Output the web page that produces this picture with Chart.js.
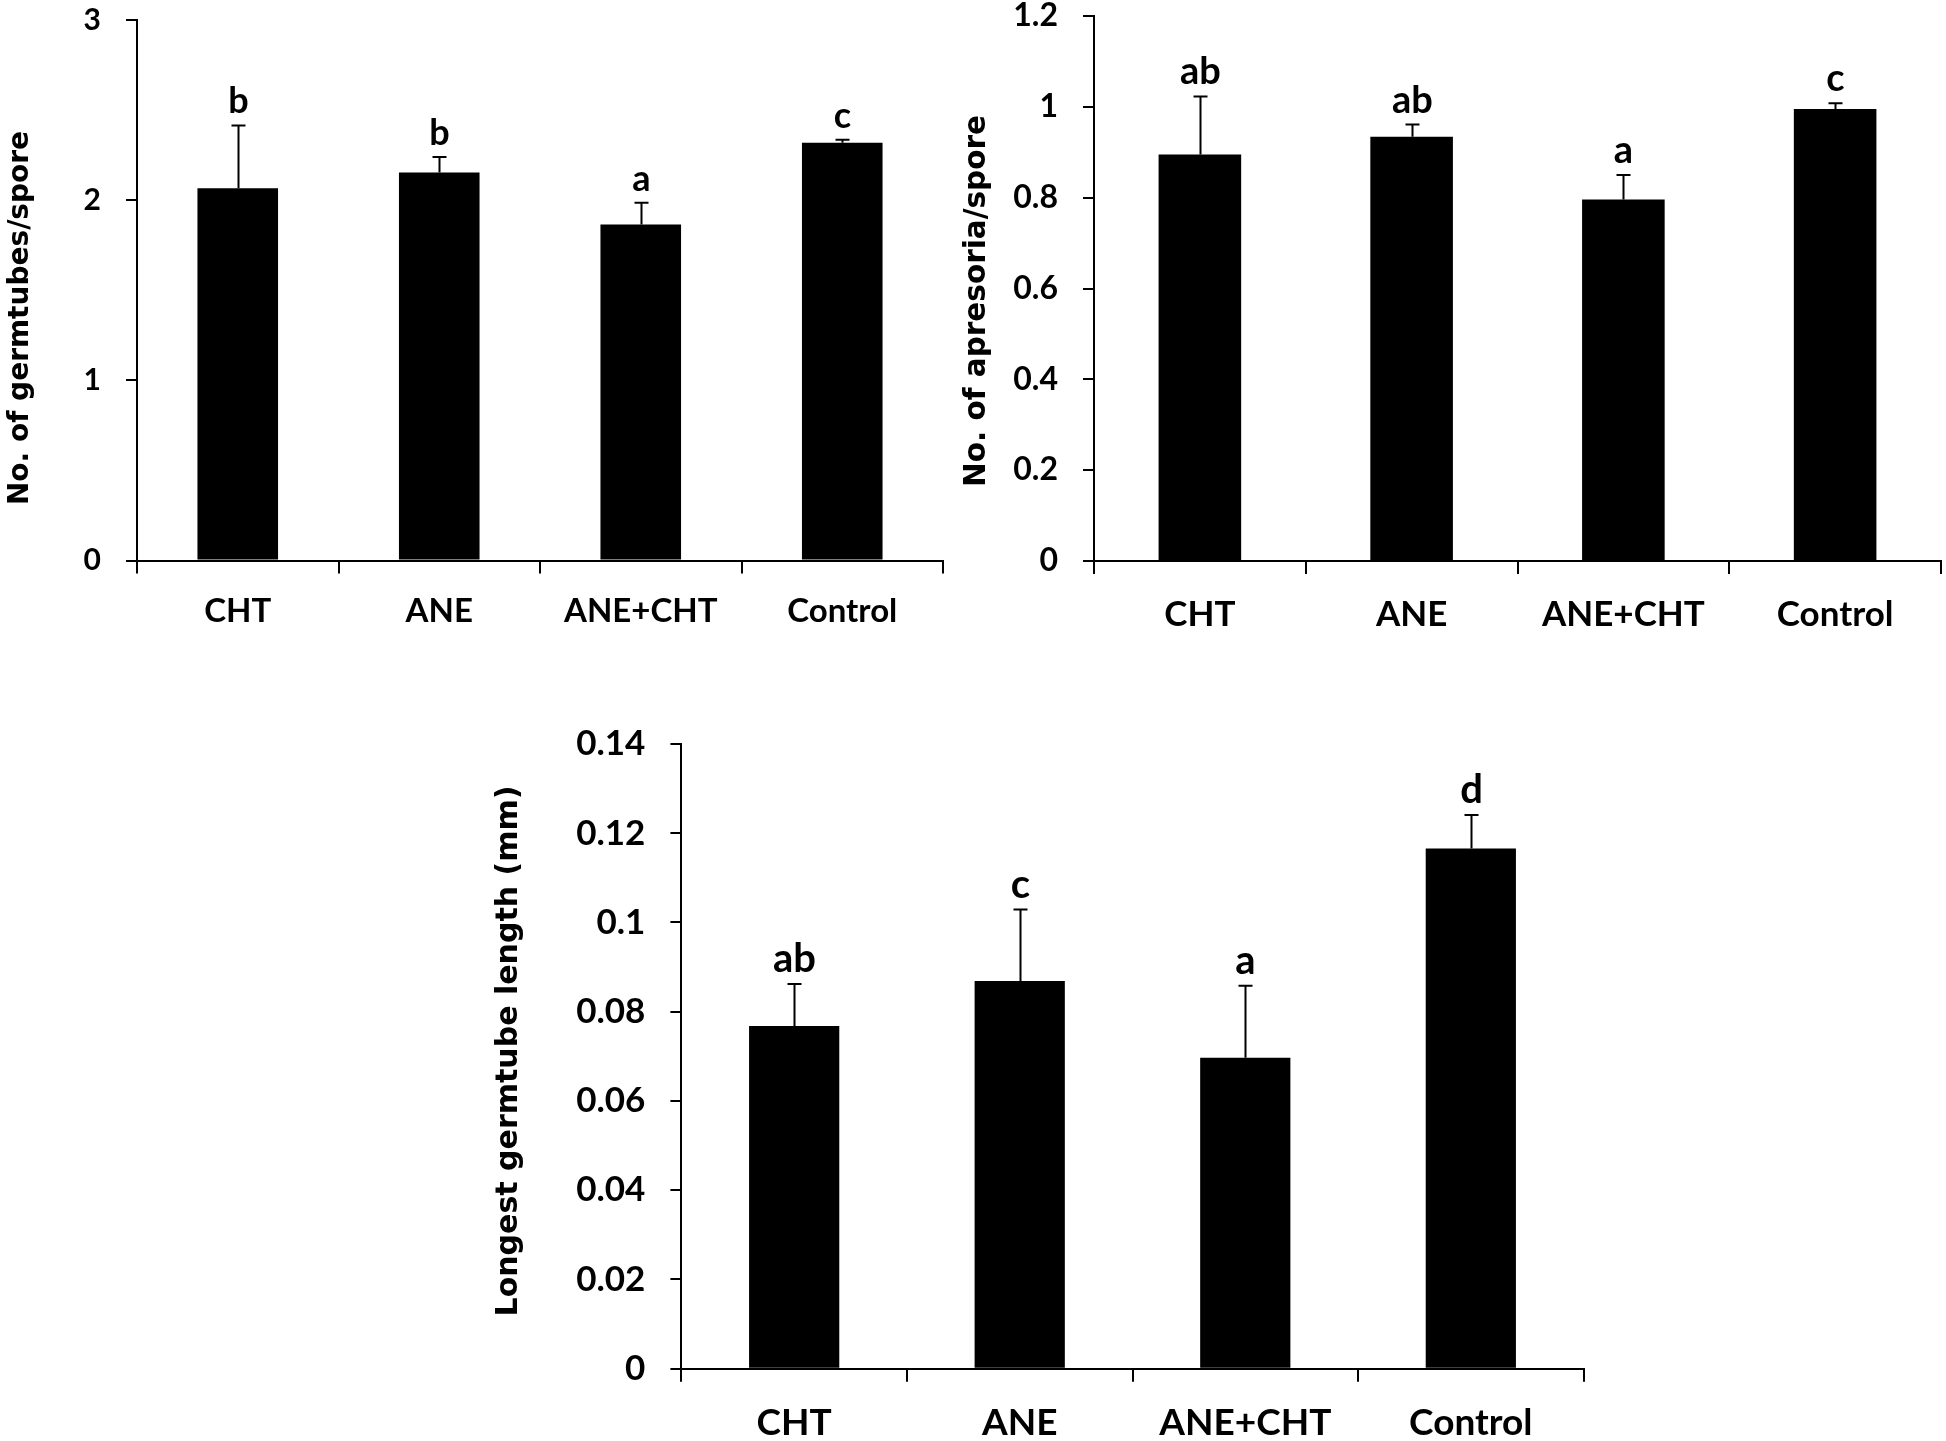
<!DOCTYPE html>
<html>
<head>
<meta charset="utf-8">
<script src="https://cdn.jsdelivr.net/npm/chart.js@4.4.1/dist/chart.umd.min.js"></script>
<style>
  html, body { margin: 0; padding: 0; background: #fff; }
  body { width: 1946px; height: 1441px; position: relative; overflow: hidden; }
  canvas { position: absolute; }
</style>
</head>
<body>
<canvas id="c1" width="960" height="680" style="left:0px;top:0px;width:960px;height:680px"></canvas>
<canvas id="c2" width="986" height="680" style="left:960px;top:0px;width:986px;height:680px"></canvas>
<canvas id="c3" width="1200" height="741" style="left:440px;top:700px;width:1200px;height:741px"></canvas>
<script>
// === data ===
const categories = ['CHT', 'ANE', 'ANE+CHT', 'Control'];

const germtubeMeans = [2.066, 2.153, 1.865, 2.318];
const germtubeErr = [0.349, 0.086, 0.121, 0.018];
const germtubeLetters = ['b', 'b', 'a', 'c'];
const germtubeTicks = [0, 1, 2, 3];

const apresoriaMeans = [0.895, 0.934, 0.796, 0.995];
const apresoriaErr = [0.128, 0.027, 0.054, 0.013];
const apresoriaLetters = ['ab', 'ab', 'a', 'c'];
const apresoriaTicks = [0, 0.2, 0.4, 0.6, 0.8, 1, 1.2];

const lengthMeans = [0.0768, 0.0869, 0.0697, 0.1166];
const lengthErr = [0.0094, 0.0160, 0.0161, 0.0075];
const lengthLetters = ['ab', 'c', 'a', 'd'];
const lengthTicks = [0, 0.02, 0.04, 0.06, 0.08, 0.1, 0.12, 0.14];

const LABEL_FONT = 'Lato, "Liberation Sans", sans-serif';
const TITLE_FONT = '"DejaVu Sans", Verdana, sans-serif';

// error bars (upward only) + significance letters
const errLetterPlugin = {
  id: 'errLetters',
  afterDatasetsDraw(chart, args, opts) {
    const ctx = chart.ctx;
    const xs = chart.scales.x, ys = chart.scales.y;
    const means = chart.data.datasets[0].data;
    ctx.save();
    ctx.strokeStyle = '#000';
    ctx.lineWidth = 2;
    ctx.fillStyle = '#000';
    ctx.font = 'bold ' + opts.fontSize + 'px ' + LABEL_FONT;
    ctx.textAlign = 'center';
    ctx.textBaseline = 'alphabetic';
    means.forEach((m, i) => {
      const x = Math.round(xs.getPixelForValue(i)) + 0.5;
      const y0 = ys.getPixelForValue(m);
      const y1 = ys.getPixelForValue(m + opts.errors[i]);
      ctx.beginPath();
      ctx.moveTo(x, y0);
      ctx.lineTo(x, y1);
      ctx.moveTo(x - 7, y1);
      ctx.lineTo(x + 7, y1);
      ctx.stroke();
      ctx.fillText(opts.letters[i], x, y1 - 12);
    });
    ctx.restore();
  }
};

// rotated y title, placed where the reference has it
const yTitlePlugin = {
  id: 'yTitle',
  afterDraw(chart, args, opts) {
    const ctx = chart.ctx;
    ctx.save();
    ctx.translate(opts.x, opts.y);
    ctx.rotate(-Math.PI / 2);
    ctx.font = 'bold ' + opts.fontSize + 'px ' + TITLE_FONT;
    ctx.fillStyle = '#000';
    ctx.textAlign = 'center';
    ctx.textBaseline = 'middle';
    ctx.fillText(opts.text, 0, 0);
    ctx.restore();
  }
};

function makeChart(id, cfg) {
  return new Chart(document.getElementById(id), {
    type: 'bar',
    data: {
      labels: categories,
      datasets: [{
        data: cfg.means,
        backgroundColor: '#000',
        borderWidth: 0,
        barPercentage: cfg.barPct,
        categoryPercentage: 1
      }]
    },
    options: {
      responsive: false,
      animation: false,
      devicePixelRatio: 1,
      layout: { padding: cfg.padding },
      plugins: {
        legend: { display: false },
        tooltip: { enabled: false },
        errLetters: { errors: cfg.errors, letters: cfg.letters, fontSize: cfg.letterSize },
        yTitle: { text: cfg.title, x: cfg.titleX, y: cfg.titleY, fontSize: cfg.titleSize }
      },
      scales: {
        x: {
          offset: true,
          grid: { offset: true, drawOnChartArea: false, drawTicks: true, tickLength: 13, color: '#000', lineWidth: 2 },
          border: { display: true, color: '#000', width: 2 },
          ticks: { color: '#000', padding: cfg.xPad, maxRotation: 0, autoSkip: false,
                   font: { family: LABEL_FONT, weight: 'bold', size: cfg.catSize } },
          afterFit: s => { s.height = cfg.xHeight; s.paddingLeft = 0; s.paddingRight = 0; }
        },
        y: {
          min: 0,
          max: cfg.ticks[cfg.ticks.length - 1],
          afterBuildTicks: s => { s.ticks = cfg.ticks.map(v => ({ value: v })); },
          grid: { drawOnChartArea: false, drawTicks: true, tickLength: 11, color: '#000', lineWidth: 2 },
          border: { display: true, color: '#000', width: 2 },
          ticks: { color: '#000', padding: 25, callback: v => String(v),
                   font: { family: LABEL_FONT, weight: 'bold', size: cfg.tickSize } },
          afterFit: s => { s.width = cfg.yWidth; s.paddingTop = 0; s.paddingBottom = 0; }
        }
      }
    },
    plugins: [errLetterPlugin, yTitlePlugin]
  });
}

makeChart('c1', {
  means: germtubeMeans, errors: germtubeErr, letters: germtubeLetters, ticks: germtubeTicks,
  title: 'No. of germtubes/spore', titleX: 21, titleY: 318, titleSize: 28,
  padding: { top: 20, right: 17, bottom: 39.5, left: 0 }, yWidth: 137, xHeight: 80,
  barPct: 0.4, tickSize: 30, catSize: 33, letterSize: 36, xPad: 18
});

makeChart('c2', {
  means: apresoriaMeans, errors: apresoriaErr, letters: apresoriaLetters, ticks: apresoriaTicks,
  title: 'No. of apresoria/spore', titleX: 17, titleY: 301, titleSize: 29.5,
  padding: { top: 16, right: 5, bottom: 39, left: 0 }, yWidth: 134, xHeight: 80,
  barPct: 0.39, tickSize: 32, catSize: 35, letterSize: 38, xPad: 20
});

makeChart('c3', {
  means: lengthMeans, errors: lengthErr, letters: lengthLetters, ticks: lengthTicks,
  title: 'Longest germtube length (mm)', titleX: 69, titleY: 351, titleSize: 30,
  padding: { top: 44, right: 56.4, bottom: 0, left: 0 }, yWidth: 241.4, xHeight: 72.3,
  barPct: 0.4, tickSize: 35, catSize: 37, letterSize: 40, xPad: 19
});
</script>
</body>
</html>
